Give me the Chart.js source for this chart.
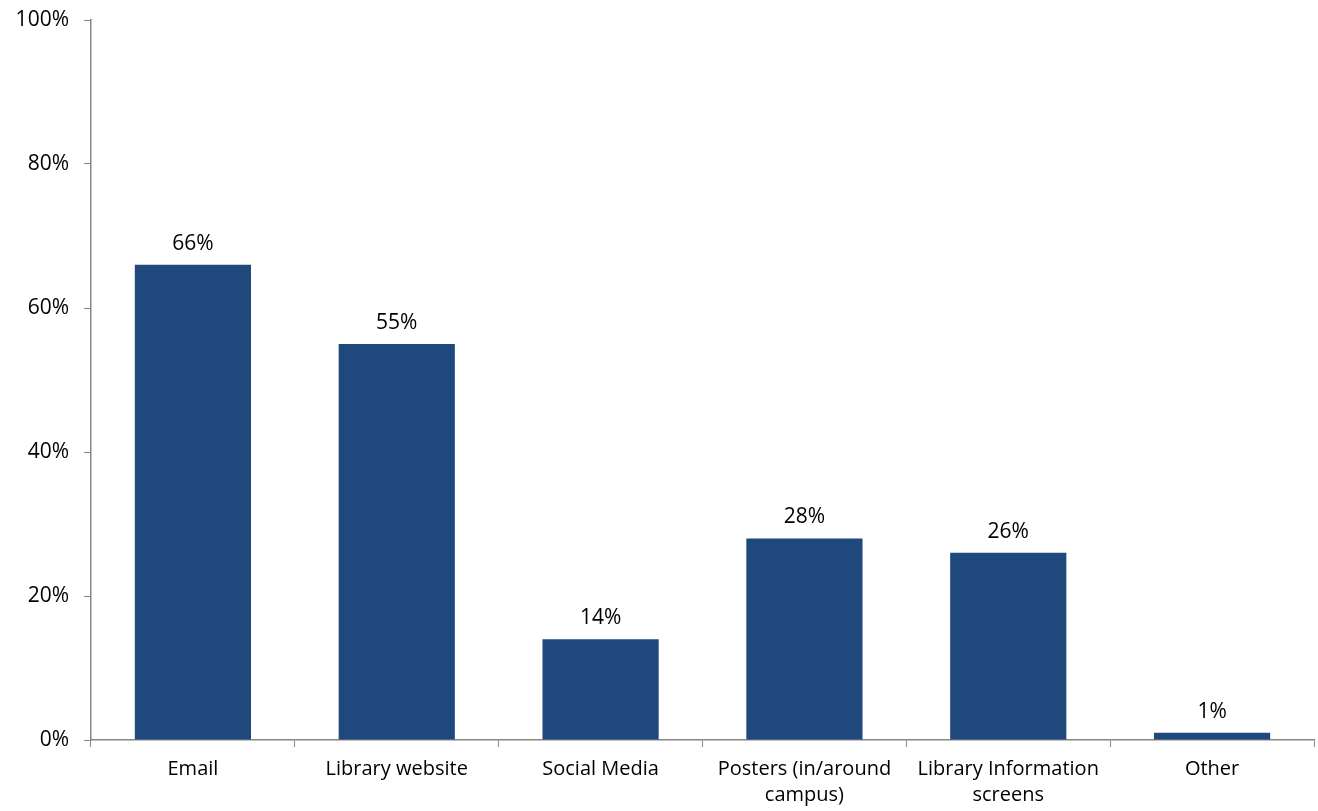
<!DOCTYPE html>
<html>
<head>
<meta charset="utf-8">
<script src="https://cdn.jsdelivr.net/npm/chart.js@4"></script>
<style>
  html, body { margin: 0; padding: 0; background: #fff; }
  #wrap { width: 1318px; height: 811px; }
</style>
</head>
<body>
<div id="wrap"><canvas id="chart" width="1318" height="811"></canvas></div>
<script>
const categories = ['Email', 'Library website', 'Social Media', ['Posters (in/around', 'campus)'], ['Library Information', 'screens'], 'Other'];
const shares = [66, 55, 14, 28, 26, 1];
const yTicks = [0, 20, 40, 60, 80, 100];

const barColor = '#1f497d';
const axisColor = '#868686';
const fontFamily = '"Open Sans", "DejaVu Sans", sans-serif';

// value labels above each bar
const valueLabels = {
    id: 'valueLabels',
    afterDatasetsDraw(chart) {
        const ctx = chart.ctx;
        const meta = chart.getDatasetMeta(0);
        ctx.save();
        ctx.font = '21px ' + fontFamily;
        ctx.fillStyle = '#000';
        ctx.textAlign = 'center';
        ctx.textBaseline = 'alphabetic';
        meta.data.forEach((bar, i) => {
            ctx.fillText(shares[i] + '%', bar.x, bar.y - 15);
        });
        ctx.restore();
    }
};

new Chart(document.getElementById('chart'), {
    type: 'bar',
    data: {
        labels: categories,
        datasets: [{
            data: shares,
            backgroundColor: barColor,
            categoryPercentage: 0.57,
            barPercentage: 1
        }]
    },
    options: {
        responsive: false,
        animation: false,
        layout: { padding: { top: 20, right: 4, bottom: 0, left: 0 } },
        plugins: {
            legend: { display: false },
            tooltip: { enabled: false }
        },
        scales: {
            x: {
                afterFit: (s) => { s.height = 71; },
                grid: {
                    offset: true,
                    drawOnChartArea: false,
                    drawTicks: true,
                    tickLength: 7,
                    color: axisColor
                },
                border: { color: axisColor, width: 1.5 },
                ticks: {
                    color: '#000',
                    font: { family: fontFamily, size: 20, lineHeight: 1.3 },
                    padding: 9,
                    maxRotation: 0,
                    autoSkip: false
                }
            },
            y: {
                min: 0,
                max: 100,
                afterFit: (s) => { s.width = 91; s.paddingTop = 0; },
                afterBuildTicks: (s) => { s.ticks = yTicks.map(v => ({ value: v })); },
                grid: {
                    drawOnChartArea: false,
                    drawTicks: true,
                    tickLength: 7,
                    color: axisColor
                },
                border: { color: axisColor, width: 1.5 },
                ticks: {
                    color: '#000',
                    font: { family: fontFamily, size: 21 },
                    padding: 15,
                    callback: (v) => v + '%'
                }
            }
        }
    },
    plugins: [valueLabels]
});
</script>
</body>
</html>
